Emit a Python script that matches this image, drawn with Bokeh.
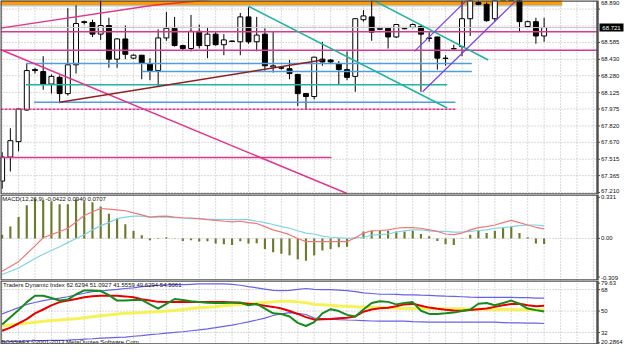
from bokeh.plotting import figure
from bokeh.layouts import column
from bokeh.models import Range1d
from bokeh.embed import file_html
from bokeh.resources import INLINE
from bokeh.core.properties import value

# ---------------- data ----------------
bars = list(range(67))
opens = [67.315, 67.535, 67.676, 67.966, 68.336, 68.318, 68.204, 68.265, 68.116, 68.380,
         68.775, 68.767, 68.661, 68.740, 68.432, 68.617, 68.441, 68.468, 68.388, 68.327,
         68.626, 68.714, 68.556, 68.529, 68.687, 68.556, 68.661, 68.564, 68.598, 68.591,
         68.819, 68.591, 68.661, 68.360, 68.353, 68.344, 68.292, 68.116, 68.089, 68.432,
         68.424, 68.388, 68.336, 68.274, 68.793, 68.819, 68.705, 68.714, 68.635, 68.710,
         68.723, 68.731, 68.626, 68.635, 68.441, 68.529, 68.547, 68.802, 68.951, 68.934,
         68.802, 69.000, 69.100, 69.050, 68.731, 68.775, 68.644]
highs = [67.579, 67.799, 67.980, 68.388, 68.353, 68.459, 68.292, 68.283, 68.899, 68.925,
         68.784, 68.793, 68.987, 68.811, 68.622, 68.740, 68.476, 68.470, 68.441, 68.705,
         68.863, 68.819, 68.564, 68.837, 68.749, 68.723, 68.679, 68.661, 68.601, 68.855,
         68.907, 68.819, 68.714, 68.687, 68.362, 68.424, 68.295, 68.118, 68.452, 68.591,
         68.432, 68.415, 68.503, 68.805, 68.881, 68.969, 68.723, 68.723, 68.749, 68.723,
         68.758, 68.749, 68.679, 68.637, 68.468, 68.564, 68.969, 69.057, 68.969, 68.951,
         69.039, 69.150, 69.180, 69.100, 68.784, 68.811, 68.811]
lows = [67.245, 67.403, 67.588, 67.960, 68.300, 68.151, 68.116, 68.028, 68.098, 68.300,
        68.749, 68.635, 68.608, 68.353, 68.353, 68.432, 68.432, 68.248, 68.239, 68.186,
        68.600, 68.547, 68.512, 68.503, 68.529, 68.441, 68.556, 68.468, 68.590, 68.468,
        68.573, 68.503, 68.327, 68.309, 68.336, 68.248, 68.001, 67.975, 68.063, 68.371,
        68.397, 68.204, 68.239, 68.133, 68.775, 68.600, 68.696, 68.529, 68.626, 68.705,
        68.714, 68.133, 68.591, 68.336, 68.371, 68.520, 68.459, 68.644, 68.925, 68.775,
        68.775, 68.980, 69.000, 68.679, 68.723, 68.573, 68.591]
closes = [67.535, 67.685, 67.975, 68.327, 68.327, 68.204, 68.274, 68.116, 68.380, 68.758,
          68.767, 68.661, 68.740, 68.432, 68.617, 68.476, 68.468, 68.397, 68.327, 68.626,
          68.714, 68.556, 68.529, 68.687, 68.556, 68.661, 68.564, 68.608, 68.594, 68.819,
          68.591, 68.652, 68.371, 68.371, 68.349, 68.300, 68.116, 68.089, 68.450, 68.406,
          68.406, 68.336, 68.265, 68.802, 68.828, 68.679, 68.714, 68.635, 68.749, 68.714,
          68.749, 68.661, 68.622, 68.441, 68.438, 68.526, 68.802, 68.987, 68.934, 68.784,
          68.995, 69.100, 69.050, 68.775, 68.775, 68.644, 68.721]
current_price = 68.721

price_grid = [68.890, 68.735, 68.585, 68.430, 68.280, 68.125, 67.975, 67.820, 67.670, 67.515, 67.365, 67.210]
price_ticks = [68.890, 68.585, 68.430, 68.280, 68.125, 67.975, 67.820, 67.670, 67.515, 67.365, 67.210]
price_labels = ["68.890", "68.585", "68.430", "68.280", "68.125", "67.975", "67.820", "67.670",
                "67.515", "67.365", "67.210"]
time_grid = list(range(0, 74, 2))

# horizontal objects (price level, first bar, last bar)
pink_lvl = [68.683, 68.514, 67.532]
pink_from = [-0.2, -0.2, -0.2]
pink_to = [72.5, 72.5, 40.1]
pinkdot_lvl = [67.972]
pinkdot_from = [-0.2]
pinkdot_to = [55.2]
blue_lvl = [68.391, 68.318, 68.036]
blue_from = [2.9, 17.0, 3.9]
blue_to = [57.2, 57.2, 55.2]
teal_lvl = [68.197]
teal_from = [2.9]
teal_to = [54.2]
zone_bottom, zone_top, zone_from, zone_to = 68.925, 69.300, -0.2, 68.2
zone_edge = 68.921

# trend lines (bar0, price0, bar1, price1)
pink_tl = [[-0.2, 68.716, 18.4, 68.925], [-0.8, 68.538, 42.0, 67.201]]
red_tl = [[18.4, 68.925, 25.6, 68.978]]
brown_tl = [[7.0, 68.036, 39.0, 68.424]]
teal_tl = [[30.0, 68.916, 54.2, 67.984], [44.8, 68.987, 59.2, 68.424]]
purple_tl = [[50.2, 68.503, 57.5, 69.040], [51.2, 68.133, 63.5, 69.035]]

# MACD
macd_hist = [0.028, 0.088, 0.159, 0.247, 0.294, 0.284, 0.277, 0.254, 0.254, 0.289,
             0.277, 0.270, 0.237, 0.183, 0.151, 0.105, 0.057, 0.023, -0.014, 0.003,
             0.009, -0.002, -0.019, -0.014, -0.023, -0.021, -0.038, -0.043, -0.048, -0.021,
             -0.038, -0.036, -0.078, -0.102, -0.114, -0.126, -0.156, -0.166, -0.126, -0.090,
             -0.078, -0.066, -0.062, 0.004, 0.052, 0.057, 0.057, 0.057, 0.052, 0.052,
             0.057, 0.033, 0.016, -0.019, -0.043, -0.048, 0.002, 0.028, 0.057, 0.041,
             0.057, 0.080, 0.087, 0.041, 0.009, -0.038, -0.0422]
macd_red = [-0.244, -0.209, -0.173, -0.114, -0.055, 0.005, 0.028, 0.052, 0.076, 0.123,
            0.171, 0.199, 0.223, 0.218, 0.213, 0.206, 0.190, 0.175, 0.159, 0.164,
            0.166, 0.159, 0.154, 0.152, 0.147, 0.140, 0.135, 0.128, 0.123, 0.128,
            0.118, 0.111, 0.088, 0.064, 0.047, 0.028, 0.000, -0.024, -0.024, -0.024,
            -0.024, -0.024, -0.024, 0.005, 0.040, 0.057, 0.059, 0.064, 0.076, 0.081,
            0.081, 0.076, 0.064, 0.052, 0.033, 0.028, 0.040, 0.064, 0.081, 0.088,
            0.100, 0.118, 0.135, 0.118, 0.100, 0.083, 0.0707]
macd_cyan = [-0.268, -0.244, -0.220, -0.185, -0.149, -0.118, -0.090, -0.062, -0.031, 0.000,
             0.028, 0.064, 0.095, 0.118, 0.147, 0.159, 0.166, 0.166, 0.159, 0.159,
             0.159, 0.154, 0.152, 0.147, 0.147, 0.142, 0.142, 0.140, 0.140, 0.140,
             0.140, 0.128, 0.118, 0.104, 0.088, 0.076, 0.057, 0.040, 0.033, 0.017,
             0.009, 0.005, 0.000, 0.005, 0.009, 0.024, 0.028, 0.033, 0.047, 0.057,
             0.064, 0.064, 0.057, 0.052, 0.052, 0.047, 0.047, 0.052, 0.059, 0.064,
             0.076, 0.081, 0.088, 0.095, 0.100, 0.100, 0.0940]
macd_title = "MACD(12,26,9) -0.0422 0.0940 0.0707"
macd_grid = [0]
macd_ticks = [0.306, 0, -0.287]
macd_labels = ["0.331", "0.00", "-0.309"]

# Traders Dynamic Index
tdi_green = [38.8, 44.9, 50.8, 57.5, 62.8, 62.8, 60.9, 58.8, 59.6, 64.1,
             67.3, 67.3, 66.8, 63.3, 58.8, 58.8, 59.3, 59.3, 55.6, 52.1,
             56.1, 60.1, 59.3, 58.3, 57.5, 56.9, 56.7, 56.7, 57.2, 57.2,
             54.8, 56.1, 52.1, 48.1, 47.6, 45.5, 40.1, 37.5, 40.7, 48.1,
             51.6, 50.0, 46.8, 45.5, 51.3, 56.7, 58.3, 57.7, 55.6, 56.7,
             57.5, 50.3, 47.6, 47.6, 48.1, 48.7, 50.0, 51.3, 56.1, 56.7,
             54.8, 56.7, 58.8, 56.1, 52.1, 50.8, 49.63]
tdi_red = [33.5, 36.1, 39.6, 43.3, 48.1, 51.3, 54.8, 57.5, 58.8, 60.1,
           61.5, 62.5, 62.8, 62.8, 62.8, 62.3, 61.5, 59.9, 58.8, 57.7,
           57.5, 57.5, 57.5, 57.5, 57.5, 57.5, 57.5, 57.5, 57.2, 56.7,
           56.1, 55.6, 54.5, 53.5, 52.1, 50.0, 47.6, 44.9, 42.8, 43.1,
           43.3, 43.9, 44.4, 45.5, 49.5, 51.3, 52.4, 52.7, 54.0, 55.6,
           56.1, 54.5, 52.9, 51.9, 51.1, 50.5, 50.3, 50.8, 51.6, 52.1,
           53.5, 54.8, 55.9, 56.1, 54.8, 54.0, 54.51]
tdi_upper = [47.6, 50.3, 52.9, 55.6, 57.2, 58.8, 59.9, 60.9, 62.0, 63.6,
             64.9, 66.3, 66.8, 67.6, 68.1, 68.9, 69.5, 70.5, 71.1, 71.6,
             71.9, 72.1, 72.1, 72.4, 72.7, 72.7, 72.7, 72.7, 72.4, 71.6,
             70.5, 69.5, 68.4, 67.3, 67.1, 67.3, 68.1, 68.9, 68.1, 67.9,
             67.9, 67.6, 67.1, 66.3, 65.2, 64.7, 64.1, 64.1, 63.9, 63.6,
             63.6, 63.3, 63.1, 62.8, 62.5, 62.3, 62.0, 61.7, 61.5, 61.5,
             61.5, 61.5, 61.5, 61.2, 61.2, 60.9, 60.9]
tdi_lower = [24.1, 24.4, 24.7, 24.9, 25.2, 25.2, 25.5, 25.5, 25.7, 26.0,
             26.5, 26.8, 27.3, 27.6, 27.9, 28.1, 28.9, 29.5, 30.3, 30.8,
             31.6, 32.1, 32.7, 33.5, 34.3, 35.1, 36.1, 37.2, 38.3, 39.6,
             41.0, 42.5, 44.1, 46.3, 47.6, 48.7, 48.1, 47.1, 44.1, 43.6,
             43.3, 42.8, 42.5, 42.3, 42.0, 41.7, 41.5, 41.5, 41.5, 41.5,
             41.2, 41.0, 40.7, 40.7, 40.7, 40.7, 40.7, 40.7, 40.7, 40.7,
             40.7, 40.4, 40.1, 40.1, 39.9, 39.9, 39.6]
tdi_yellow = [37.5, 38.3, 39.1, 39.9, 40.7, 41.5, 42.0, 42.5, 43.1, 43.6,
              44.4, 45.2, 46.0, 46.8, 47.6, 48.1, 48.4, 48.7, 49.2, 49.5,
              50.0, 50.5, 51.3, 52.1, 52.7, 53.2, 53.7, 54.5, 55.1, 55.6,
              56.1, 56.7, 57.2, 57.7, 58.3, 58.3, 57.7, 56.9, 55.6, 55.3,
              54.8, 54.3, 54.0, 53.7, 53.5, 53.2, 52.9, 52.7, 52.4, 52.1,
              52.1, 52.1, 52.1, 52.1, 51.9, 51.9, 51.9, 51.6, 51.6, 51.6,
              51.3, 51.3, 51.3, 51.1, 51.1, 50.8, 51.09]
tdi_title = "Traders Dynamic Index 62.6294 51.0927 41.5559 49.6294 54.5061"
tdi_levels = [68, 50, 32]
tdi_ticks = [73.4, 68, 50, 32, 23.4]
tdi_labels = ["79.63", "68", "50", "32", "20.2864"]
footer = "BOSSAFX \u00a92001-2013 MetaQuotes Software Corp."

# ---------------- drawing ----------------
FONT = "Liberation Sans"
W = 624
CHART_W = 597                       # pixel width of the bar area
X0, X1 = -0.2, 72.5                 # bar range of the chart area
UPP = (X1 - X0) / CHART_W           # bar units per pixel
XR = Range1d(X0, X0 + W * UPP)
BORDER = "#505050"
GRIDC = "#b4b4b4"


def panel(h, y0, y1):
    p = figure(width=W, height=h, x_range=XR, y_range=Range1d(y0, y1),
               output_backend="svg", toolbar_location=None,
               x_axis_location=None, y_axis_location=None,
               min_border_left=0, min_border_right=0, min_border_top=0, min_border_bottom=0,
               background_fill_color="white", border_fill_color="white")
    p.outline_line_color = None
    p.grid.visible = False
    p.segment(x0=time_grid, y0=[y0] * len(time_grid), x1=time_grid, y1=[y1] * len(time_grid),
              line_color=GRIDC, line_width=1, line_dash="1 2")
    return p


def hgrid(p, levels):
    p.segment(x0=[X0] * len(levels), y0=levels, x1=[X1] * len(levels), y1=levels,
              line_color=GRIDC, line_width=1, line_dash="1 2")


def frame_and_axis(p, y0, y1, ticks, labels):
    p.quad(left=[X0], right=[X1], bottom=[y0], top=[y1], fill_color=None,
           line_color=BORDER, line_width=2.5)
    p.segment(x0=[X1] * len(ticks), y0=ticks, x1=[X1 + 2.5 * UPP] * len(ticks), y1=ticks,
              line_color=BORDER, line_width=1)
    # labels: the first sits just under the top edge, the last just over the bottom edge
    groups = {"middle": ([], []), "top": ([], []), "bottom": ([], [])}
    span = y1 - y0
    for k, (t, s) in enumerate(zip(ticks, labels)):
        if (y1 - t) / span < 0.05:
            groups["top"][0].append(y1 - 0.005 * span)
        elif (t - y0) / span < 0.05:
            groups["bottom"][0].append(y0 + 0.01 * span)
        else:
            groups["middle"][0].append(t)
            groups["middle"][1].append(s)
            continue
        key = "top" if (y1 - t) / span < 0.05 else "bottom"
        groups[key][1].append(s)
    for base, (ys, ss) in groups.items():
        if ys:
            p.text(x=[X1 + 3.5 * UPP] * len(ys), y=ys, text=ss, text_font=value(FONT),
                   text_font_size=value("6px"), text_baseline=base, text_align="left",
                   text_color="#111111")


# ---- main price panel ----
PY0, PY1 = 67.192, 68.969
pm = panel(194, PY0, PY1)
hgrid(pm, price_grid)

pm.quad(left=[zone_from], right=[zone_to], bottom=[zone_bottom], top=[zone_top],
        fill_color="#ff9a00", line_color=None)
pm.segment(x0=[zone_from], y0=[zone_edge], x1=[zone_to], y1=[zone_edge],
           line_color="#a8c8e4", line_width=1.5)

body_top = [max(o, c) for o, c in zip(opens, closes)]
body_bot = [min(o, c) for o, c in zip(opens, closes)]
body_fill = ["white" if c >= o else "black" for o, c in zip(opens, closes)]
pm.segment(x0=bars, y0=lows, x1=bars, y1=highs, line_color="black", line_width=1)
pm.vbar(x=bars, top=body_top, bottom=body_bot, width=0.6,
        fill_color=body_fill, line_color="black", line_width=1)

pm.segment(x0=[X0], y0=[current_price], x1=[X1], y1=[current_price],
           line_color="#c8c8c8", line_width=1)
pm.segment(x0=pink_from, y0=pink_lvl, x1=pink_to, y1=pink_lvl, line_color="#e0368f", line_width=1.5)
pm.segment(x0=pinkdot_from, y0=pinkdot_lvl, x1=pinkdot_to, y1=pinkdot_lvl,
           line_color="#e0368f", line_width=1.5, line_dash="3 1")
pm.segment(x0=blue_from, y0=blue_lvl, x1=blue_to, y1=blue_lvl, line_color="#4f9fe0", line_width=1.5)
pm.segment(x0=teal_from, y0=teal_lvl, x1=teal_to, y1=teal_lvl, line_color="#22b3a3", line_width=1.5)


def draw_tl(lines, color, w=1.5):
    pm.segment(x0=[l[0] for l in lines], y0=[l[1] for l in lines],
               x1=[l[2] for l in lines], y1=[l[3] for l in lines], line_color=color, line_width=w)


draw_tl(pink_tl, "#e0368f")
draw_tl(red_tl, "#ff3010")
draw_tl(brown_tl, "#8b2323")
draw_tl(teal_tl, "#22b3a3")
draw_tl(purple_tl, "#7a40e0", 1.2)

frame_and_axis(pm, PY0, PY1, price_ticks, price_labels)
pm.rect(x=[X1 + 14 * UPP], y=[current_price], width=24, height=8,
        width_units="screen", height_units="screen", fill_color="black", line_color=None)
pm.text(x=[X1 + 14 * UPP], y=[current_price], text=[f"{current_price:.3f}"], text_font=value(FONT),
        text_font_size=value("6px"), text_baseline="middle", text_align="center", text_color="white")

# ---- MACD panel ----
MY0, MY1 = -0.313, 0.327
pmacd = panel(86, MY0, MY1)
hgrid(pmacd, macd_grid)
pmacd.vbar(x=bars, top=macd_hist, bottom=0, width=0.26, fill_color="#6b7b2b", line_color=None)
pmacd.line(bars, macd_cyan, line_color="#7fd3e6", line_width=1.2)
pmacd.line(bars, macd_red, line_color="#f07878", line_width=1.2)
pmacd.text(x=[0.0], y=[0.296], text=[macd_title], text_font=value(FONT),
           text_font_size=value("6px"), text_baseline="middle", text_color="#111111")
frame_and_axis(pmacd, MY0, MY1, macd_ticks, macd_labels)

# ---- TDI panel ----
TY0, TY1 = 22.0, 75.6
ptdi = panel(64, TY0, TY1)
hgrid(ptdi, tdi_levels)
ptdi.line(bars, tdi_upper, line_color="#6a62e6", line_width=1.2)
ptdi.line(bars, tdi_lower, line_color="#6a62e6", line_width=1.2)
ptdi.line(bars, tdi_yellow, line_color="#f4f03a", line_width=3, line_alpha=0.85)
ptdi.line(bars, tdi_red, line_color="#e80000", line_width=2)
ptdi.line(bars, tdi_green, line_color="#178a1e", line_width=2)
ptdi.text(x=[0.1], y=[72.2], text=[tdi_title], text_font=value(FONT),
          text_font_size=value("6px"), text_baseline="middle", text_color="#111111")
ptdi.text(x=[-0.1], y=[24.4], text=[footer], text_font=value(FONT),
          text_font_size=value("6px"), text_baseline="middle", text_color="#111111")
frame_and_axis(ptdi, TY0, TY1, tdi_ticks, tdi_labels)

layout = column(pm, pmacd, ptdi, spacing=0)
open("out.html", "w").write(file_html(layout, INLINE))
